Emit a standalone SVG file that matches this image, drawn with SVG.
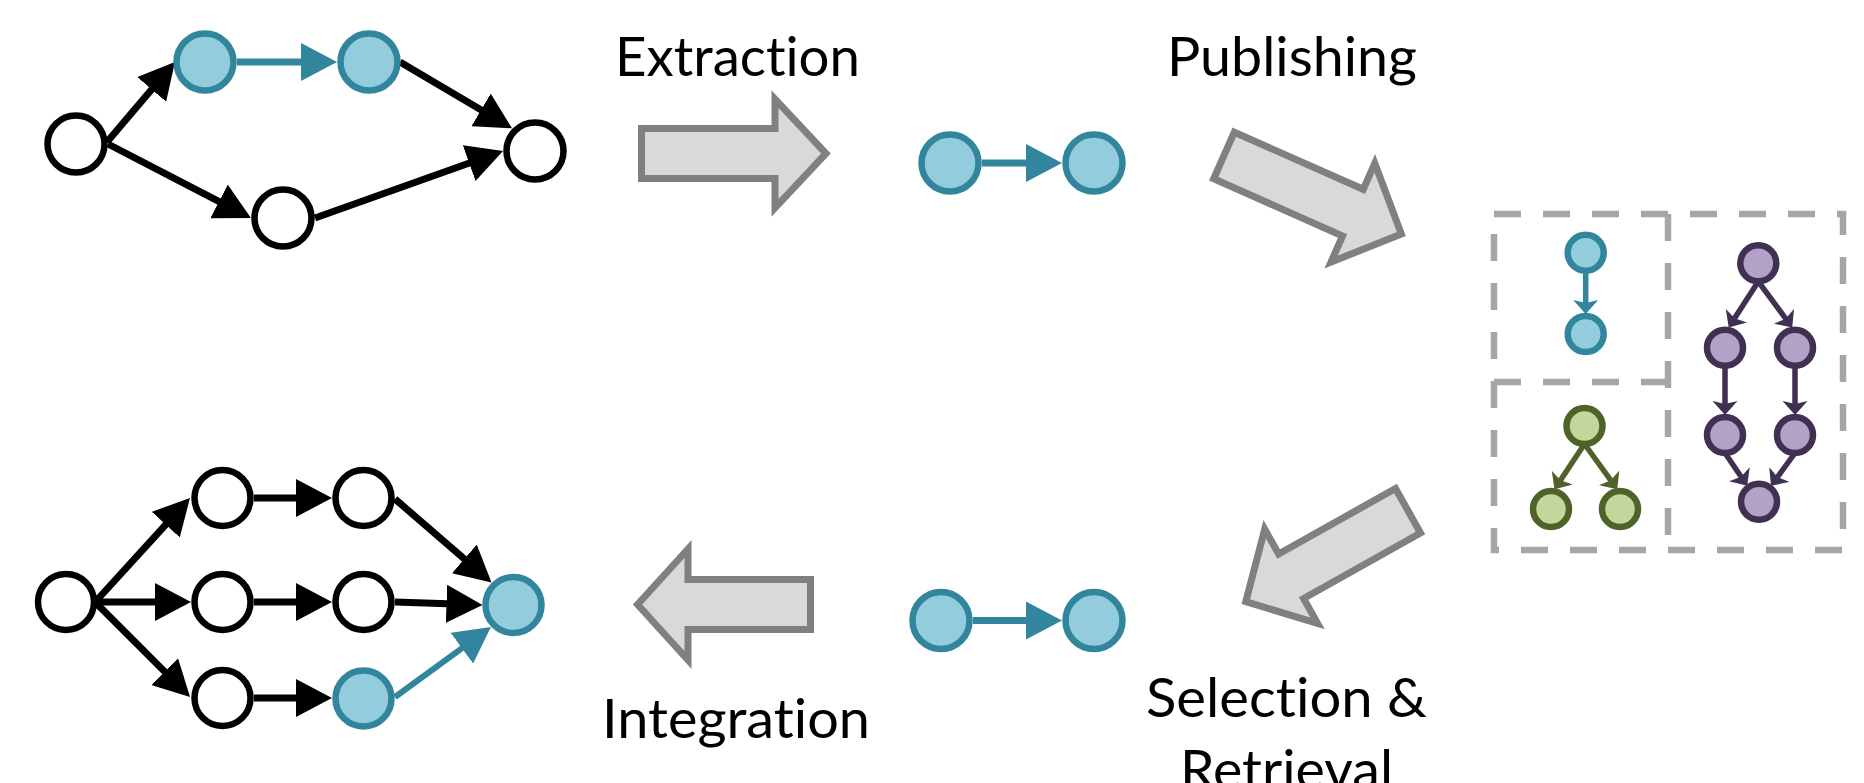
<svg xmlns="http://www.w3.org/2000/svg" width="1864" height="783" viewBox="0 0 1864 783">
<style>
.w{fill:#ffffff;stroke:#000000;stroke-width:6.5}
.b{fill:#93cddd;stroke:#31859c;stroke-width:6.5}
.bs{fill:#93cddd;stroke:#31859c;stroke-width:6.5}
.g{fill:#c3d69b;stroke:#4f6228;stroke-width:6.5}
.p{fill:#b3a2c7;stroke:#403152;stroke-width:6.5}
.e{fill:none;stroke:#000000;stroke-width:7;marker-end:url(#ah)}
.et{fill:none;stroke:#31859c;stroke-width:7;marker-end:url(#aht)}
.st{fill:none;stroke:#31859c;stroke-width:5.5;marker-end:url(#smt)}
.sg{fill:none;stroke:#4f6228;stroke-width:5.5;marker-end:url(#smg)}
.sp{fill:none;stroke:#403152;stroke-width:5.5;marker-end:url(#smp)}
.big{fill:#d9d9d9;stroke:#808080;stroke-width:7;stroke-linejoin:miter}
.box{fill:none;stroke:#a6a6a6;stroke-width:6.5;stroke-dasharray:27 22}
.lbl{font-family:Lato,"Open Sans","Liberation Sans",sans-serif;font-size:54px;fill:#000000;font-variant-ligatures:none;font-feature-settings:"liga" 0}
</style>
<defs>
<marker id="ah" markerUnits="userSpaceOnUse" viewBox="0 0 36 38" refX="16" refY="19" markerWidth="36" markerHeight="38" orient="auto"><path d="M0,0 L36,19 L0,38 Z" fill="#000000"/></marker>
<marker id="aht" markerUnits="userSpaceOnUse" viewBox="0 0 36 38" refX="16" refY="19" markerWidth="36" markerHeight="38" orient="auto"><path d="M0,0 L36,19 L0,38 Z" fill="#31859c"/></marker>
<marker id="smt" markerUnits="userSpaceOnUse" viewBox="0 0 14 25" refX="7" refY="12.5" markerWidth="14" markerHeight="25" orient="auto"><path d="M0,0 L14,12.5 L0,25 L3,12.5 Z" fill="#31859c"/></marker>
<marker id="smg" markerUnits="userSpaceOnUse" viewBox="0 0 14 25" refX="7" refY="12.5" markerWidth="14" markerHeight="25" orient="auto"><path d="M0,0 L14,12.5 L0,25 L3,12.5 Z" fill="#4f6228"/></marker>
<marker id="smp" markerUnits="userSpaceOnUse" viewBox="0 0 14 25" refX="7" refY="12.5" markerWidth="14" markerHeight="25" orient="auto"><path d="M0,0 L14,12.5 L0,25 L3,12.5 Z" fill="#403152"/></marker>
</defs>

<g id="stage-arrows">
<path class="big" d="M641.5,128.5 H775 V99 L826,153.5 L775,208 V178.5 H641.5 Z"/>
<path class="big" d="M0,-25.5 H141 V-54 L194,0 L141,54 V25.5 H0 Z" transform="translate(1224,155.5) rotate(23.9)"/>
<path class="big" d="M0,-25.5 H134 V-54 L186,0 L134,54 V25.5 H0 Z" transform="translate(1408,510.7) rotate(150.7)"/>
<path class="big" d="M810.5,579.5 H688 V549 L637.6,604.5 L688,660 V629.5 H810.5 Z"/>
</g>

<g id="labels">
<text class="lbl" x="615" y="76" textLength="245" lengthAdjust="spacingAndGlyphs">Extraction</text>
<text class="lbl" x="1167" y="76" textLength="250" lengthAdjust="spacingAndGlyphs">Publishing</text>
<text class="lbl" x="602" y="738" textLength="268" lengthAdjust="spacingAndGlyphs">Integration</text>
<text class="lbl" x="1146" y="717" textLength="281" lengthAdjust="spacingAndGlyphs">Selection &amp;</text>
<text class="lbl" x="1180" y="789" textLength="213" lengthAdjust="spacingAndGlyphs">Retrieval</text>
</g>

<g id="connectors">
<line class="e" x1="107" y1="142" x2="162" y2="77.2"/>
<line class="e" x1="108" y1="144" x2="233.2" y2="208.8"/>
<line class="e" x1="315" y1="218" x2="484.2" y2="157.7"/>
<line class="e" x1="400" y1="62" x2="494.8" y2="118.1"/>
<line class="et" x1="237" y1="62" x2="317" y2="62"/>
<line class="et" x1="982" y1="163" x2="1042" y2="163"/>
<line class="et" x1="973" y1="620.5" x2="1042" y2="620.5"/>
<line class="e" x1="97" y1="600" x2="176.5" y2="512.8"/>
<line class="e" x1="97" y1="602" x2="171" y2="602"/>
<line class="e" x1="97" y1="604" x2="175.9" y2="682.9"/>
<line class="e" x1="254" y1="498" x2="312" y2="498"/>
<line class="e" x1="254" y1="602" x2="312" y2="602"/>
<line class="e" x1="254" y1="698" x2="312" y2="698"/>
<line class="e" x1="395" y1="499" x2="476.4" y2="569.4"/>
<line class="e" x1="395" y1="602" x2="462.5" y2="604.3"/>
<line class="et" style="stroke-width:6" x1="395" y1="697" x2="474.8" y2="638.8"/>
<line class="st" x1="1585.7" y1="271" x2="1585.7" y2="307"/>
<line class="sg" x1="1584.5" y1="444" x2="1558.3" y2="483.5"/>
<line class="sg" x1="1584.5" y1="444" x2="1613.2" y2="483.6"/>
<line class="sp" x1="1758.3" y1="281.5" x2="1732.5" y2="321.6"/>
<line class="sp" x1="1758.3" y1="281.5" x2="1788.1" y2="321.9"/>
<line class="sp" x1="1725" y1="366" x2="1725" y2="408"/>
<line class="sp" x1="1795" y1="366" x2="1795" y2="408"/>
<line class="sp" x1="1725" y1="453" x2="1743.3" y2="480"/>
<line class="sp" x1="1795" y1="453" x2="1775.2" y2="480.2"/>
</g>

<g id="source-graph">
<circle id="s-a" class="w" cx="76" cy="144" r="28.5"/>
<circle id="s-b" class="b" cx="205" cy="62" r="28.5"/>
<circle id="s-c" class="b" cx="369" cy="62" r="28.5"/>
<circle id="s-d" class="w" cx="535" cy="151" r="28.5"/>
<circle id="s-e" class="w" cx="283" cy="218" r="28.5"/>
</g>

<g id="extracted-pair">
<circle id="x-1" class="b" cx="950" cy="163" r="28.5"/>
<circle id="x-2" class="b" cx="1094" cy="163" r="28.5"/>
</g>

<g id="repository">
<rect class="box" x="1494" y="214" width="349" height="336"/>
<line class="box" x1="1668" y1="214" x2="1668" y2="550"/>
<line class="box" x1="1494" y1="382" x2="1668" y2="382"/>
<g id="repo-teal">
<circle class="bs" cx="1585.7" cy="252.7" r="18"/>
<circle class="bs" cx="1585.7" cy="334" r="18"/>
</g>
<g id="repo-green">
<circle class="g" cx="1584.5" cy="426" r="18"/>
<circle class="g" cx="1551" cy="509" r="18"/>
<circle class="g" cx="1620" cy="509" r="18"/>
</g>
<g id="repo-purple">
<circle class="p" cx="1758.3" cy="263.3" r="18"/>
<circle class="p" cx="1725" cy="347.7" r="18"/>
<circle class="p" cx="1795" cy="347.7" r="18"/>
<circle class="p" cx="1725" cy="435" r="18"/>
<circle class="p" cx="1795" cy="435" r="18"/>
<circle class="p" cx="1759" cy="501.7" r="18"/>
</g>
</g>

<g id="retrieved-pair">
<circle id="r-1" class="b" cx="941" cy="620.5" r="28.5"/>
<circle id="r-2" class="b" cx="1094" cy="620.5" r="28.5"/>
</g>

<g id="target-graph">
<circle id="t-0" class="w" cx="66" cy="602" r="28"/>
<circle id="t-1" class="w" cx="222.5" cy="498" r="28"/>
<circle id="t-2" class="w" cx="363.5" cy="498" r="28"/>
<circle id="t-3" class="w" cx="222.5" cy="602" r="28"/>
<circle id="t-4" class="w" cx="363.5" cy="602" r="28"/>
<circle id="t-5" class="w" cx="222.5" cy="698" r="28"/>
<circle id="t-6" class="b" cx="363.5" cy="698.5" r="28"/>
<circle id="t-7" class="b" cx="513.5" cy="605" r="28"/>
</g>
</svg>
